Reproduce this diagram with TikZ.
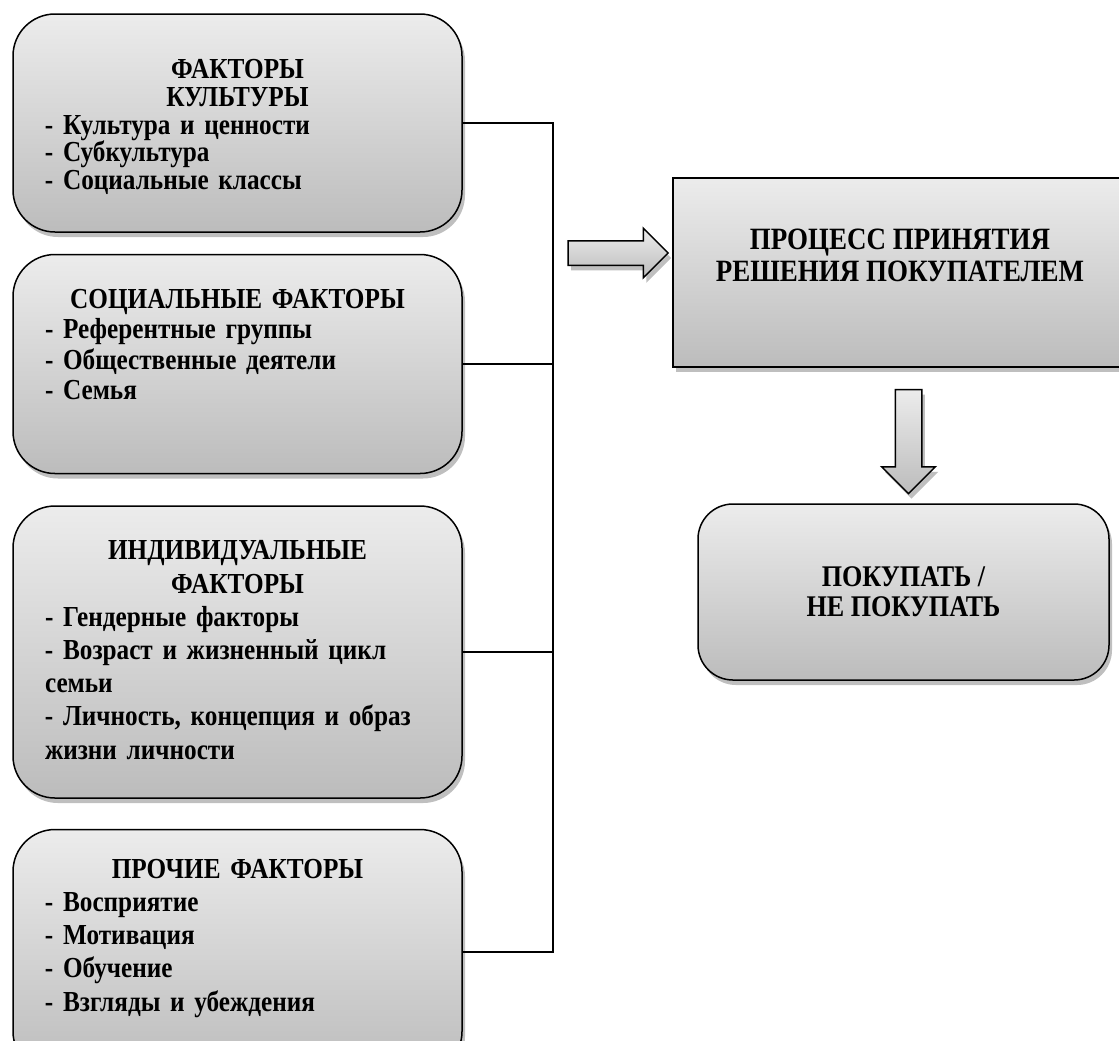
\documentclass[tikz,border=0pt]{standalone}
\usepackage{fontspec}
\setmainfont{Liberation Serif}[FakeStretch=0.87]
\usetikzlibrary{positioning,shapes.arrows,shadows}
\definecolor{boxtop}{HTML}{ECECEC}
\definecolor{boxbot}{HTML}{BCBCBC}
\tikzset{
    softshadow/.style={drop shadow={shadow xshift=1.5pt, shadow yshift=-2.5pt, opacity=0.25, fill=black}},
    factor/.style={draw, line width=0.75pt, rounded corners=21pt, minimum width=224.5pt,
        top color=boxtop, bottom color=boxbot, softshadow},
    factortext/.style={anchor=north, text width=192.5pt, align=left, inner sep=0pt},
    procbox/.style={draw, line width=0.75pt, minimum width=227pt, minimum height=94.5pt,
        top color=boxtop, bottom color=boxbot, softshadow},
    buybox/.style={draw, line width=0.75pt, rounded corners=17.5pt, minimum width=205.5pt,
        minimum height=88pt, top color=boxtop, bottom color=boxbot, softshadow},
    fatarrow/.style={single arrow, draw, line width=0.75pt, inner xsep=0pt,
        top color=boxtop, bottom color=boxbot, softshadow},
    link/.style={line width=1pt}
}

\begin{document}
\begin{tikzpicture}[x=0.5pt, y=-0.5pt, font=\bfseries\fontsize{14.5pt}{16.6pt}\selectfont]
    \useasboundingbox (0,0) rectangle (1119,1040);

    % factor boxes
    \node[factor, minimum height=109pt] (f1) at (237.5,123) {};
    \node[factor, minimum height=109.5pt, below=10.5pt of f1] (f2) {};
    \node[factor, minimum height=146pt, below=15.5pt of f2] (f3) {};
    \node[factor, minimum height=122pt, below=15pt of f3] (f4) {};

    \node[factortext, below=23pt of f1.north, font=\bfseries\fontsize{14.5pt}{13.8pt}\selectfont] (f1t)
        {{\centering ФАКТОРЫ\\КУЛЬТУРЫ\par}- Культура и ценности\\- Субкультура\\- Социальные классы};
    \node[factortext, below=17.5pt of f2.north, font=\bfseries\fontsize{14.5pt}{15.2pt}\selectfont] (f2t)
        {{\centering СОЦИАЛЬНЫЕ ФАКТОРЫ\par}- Референтные группы\\- Общественные деятели\\- Семья};
    \node[factortext, below=17.5pt of f3.north] (f3t)
        {{\centering ИНДИВИДУАЛЬНЫЕ\\ФАКТОРЫ\par}- Гендерные факторы\\- Возраст и жизненный цикл\\семьи\\- Личность, концепция и образ\\жизни личности};
    \node[factortext, below=15pt of f4.north] (f4t)
        {{\centering ПРОЧИЕ ФАКТОРЫ\par}- Восприятие\\- Мотивация\\- Обучение\\- Взгляды и убеждения};

    % collecting line
    \coordinate (busx) at (553,0);
    \draw[link] (f1.east) -- (f1.east -| busx) -- (f4.east -| busx) -- (f4.east);
    \draw[link] (f2.east) -- (f2.east -| busx);
    \draw[link] (f3.east) -- (f3.east -| busx);

    % decision
    \node[procbox] (proc) at (900,272.5) {};
    \node[align=center, anchor=north, inner sep=0pt, below=25.5pt of proc.north,
        font=\bfseries\fontsize{15.5pt}{16pt}\selectfont] (proct)
        {ПРОЦЕСС ПРИНЯТИЯ\\РЕШЕНИЯ ПОКУПАТЕЛЕМ};

    \node[fatarrow, minimum height=50pt, inner ysep=5.75pt, single arrow head extend=6.25pt] (a1) at (612,253) {};
    \node[fatarrow, rotate=-90, minimum height=52pt, inner ysep=6.25pt, single arrow head extend=6.75pt] (a2) at (908.5,435) {};

    \node[buybox] (buy) at (903.5,592) {};
    \node[align=center, inner sep=0pt, font=\bfseries\fontsize{15pt}{15pt}\selectfont] (buyt) at (buy.center)
        {ПОКУПАТЬ /\\НЕ ПОКУПАТЬ};
\end{tikzpicture}
\end{document}
